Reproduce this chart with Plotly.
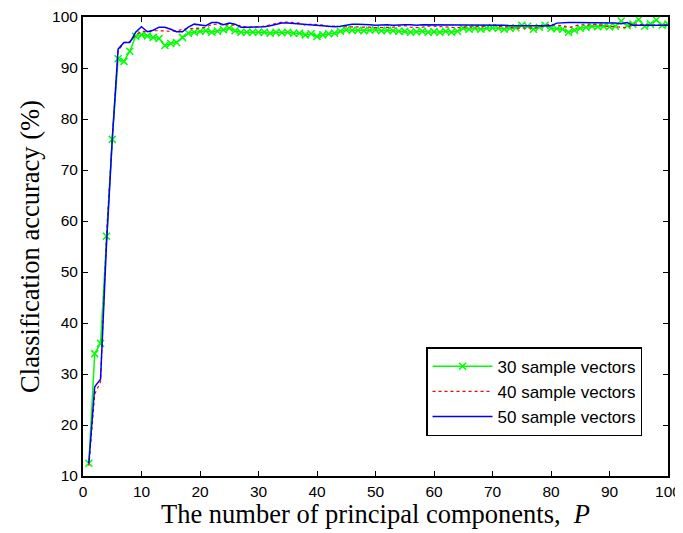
import plotly.graph_objects as go

components = list(range(1, 101))

acc_30 = [12.5, 34, 36, 57, 76, 91.8, 91.3, 93.3, 96.2, 96.5,
          96.3, 96.0, 95.8, 94.4, 94.8, 95.0, 96.0, 96.8, 97.0, 97.2,
          97.3, 97.0, 97.2, 97.5, 97.8, 97.3, 97.0, 97.0, 97.0, 97.0,
          97.0, 96.8, 97.0, 96.9, 97.0, 96.8, 96.8, 96.5, 96.7, 96.2,
          96.5, 96.7, 96.8, 97.2, 97.5, 97.4, 97.4, 97.3, 97.4, 97.5,
          97.3, 97.4, 97.3, 97.2, 97.2, 97.0, 97.1, 97.2, 97.0, 97.1,
          97.0, 97.2, 97.0, 97.2, 97.8, 97.6, 97.8, 97.6, 97.8, 97.9,
          97.8, 97.6, 97.8, 97.9, 98.4, 98.2, 97.6, 98.0, 98.4, 97.8,
          97.7, 97.6, 97.0, 97.4, 97.8, 98.0, 98.2, 98.1, 98.2, 98.1,
          98.2, 99.2, 98.3, 98.6, 99.5, 98.2, 98.6, 99.4, 98.4, 98.6]

acc_40 = [12, 26, 28.5, 57, 76, 93.3, 95, 95.2, 96.5, 97.2,
          97.1, 97.3, 97.3, 97.2, 97.2, 97.3, 97.5, 97.8, 97.7, 97.8,
          98.0, 98.5, 98.6, 98.4, 98.5, 98.4, 98.3, 98.0, 98.0, 98.0,
          98.2, 98.5, 98.8, 99.0, 99.0, 98.9, 98.8, 98.4, 98.6, 98.5,
          98.4, 98.1, 98.2, 98.1, 98.1, 98.1, 98.1, 98.0, 98.0, 97.9,
          97.9, 97.9, 98.0, 98.2, 98.3, 98.0, 97.9, 98.0, 98.2, 98.2,
          98.1, 98.0, 97.9, 97.9, 98.0, 98.1, 98.1, 98.1, 98.2, 98.5,
          98.1, 98.1, 97.9, 97.8, 97.8, 97.8, 97.8, 97.9, 98.4, 98.6,
          98.4, 98.3, 97.9, 98.2, 98.5, 98.4, 98.4, 98.5, 98.3, 98.1,
          98.1, 98.0, 97.9, 98.6, 98.6, 98.4, 98.4, 98.4, 98.4, 98.4]

acc_50 = [12.5, 27.5, 29, 55, 76, 93.7, 95, 95, 97, 98.1,
          97.1, 97.4, 98.0, 98.0, 97.6, 97.1, 97.1, 98.0, 98.6, 98.4,
          98.3, 98.9, 98.9, 98.5, 98.8, 98.6, 98.0, 98.0, 98.0, 98.0,
          98.1, 98.3, 98.6, 98.8, 98.8, 98.7, 98.6, 98.5, 98.4, 98.3,
          98.2, 98.1, 98.1, 98.2, 98.4, 98.6, 98.6, 98.6, 98.5, 98.4,
          98.5, 98.5, 98.4, 98.5, 98.5, 98.5, 98.4, 98.5, 98.5, 98.5,
          98.4, 98.5, 98.5, 98.5, 98.4, 98.5, 98.5, 98.5, 98.4, 98.5,
          98.5, 98.4, 98.3, 98.3, 98.3, 98.3, 98.3, 98.3, 98.3, 98.3,
          98.8, 98.9, 98.9, 98.9, 98.9, 98.9, 98.9, 98.9, 98.8, 98.8,
          98.8, 98.7, 98.9, 98.4, 98.4, 98.4, 98.4, 98.4, 98.4, 98.4]

series_names = ["30 sample vectors", "40 sample vectors", "50 sample vectors"]
x_ticks = list(range(0, 101, 10))
y_ticks = list(range(10, 101, 10))
x_title = "The number of principal components,  <i>P</i>"
y_title = "Classification accuracy (%)"

fig = go.Figure()
fig.add_trace(go.Scatter(
    x=components, y=acc_30, name=series_names[0], mode="lines+markers",
    line=dict(color="#00ff00", width=1.5),
    marker=dict(symbol="x-thin", size=7, line=dict(color="#00ff00", width=1.5)),
))
fig.add_trace(go.Scatter(
    x=components, y=acc_40, name=series_names[1], mode="lines",
    line=dict(color="#ff0000", width=1.2, dash="dot"),
))
fig.add_trace(go.Scatter(
    x=components, y=acc_50, name=series_names[2], mode="lines",
    line=dict(color="#0000ff", width=1.5),
))

axis_common = dict(
    showline=True, linecolor="black", linewidth=2, mirror="ticks",
    ticks="inside", ticklen=5, tickcolor="black", tickwidth=1,
    showgrid=False, zeroline=False, automargin=False,
    ticklabeloverflow="allow",
    tickfont=dict(family="Liberation Sans, Arial", size=15.5, color="black"),
)

title_font = dict(family="Liberation Serif, Times New Roman", size=26.5, color="black")

fig.update_layout(
    width=683, height=533,
    margin=dict(l=75, r=23, t=9, b=65),
    paper_bgcolor="white", plot_bgcolor="white",
    xaxis=dict(range=[0, 100], tickvals=x_ticks, ticktext=[str(v) for v in x_ticks],
               **axis_common),
    yaxis=dict(range=[10, 100], tickvals=y_ticks, ticktext=[str(v) for v in y_ticks],
               title=dict(text=y_title, font=title_font, standoff=5),
               **axis_common),
    legend=dict(x=0.9556, y=0.0866, xanchor="right", yanchor="bottom",
                bordercolor="black", borderwidth=1.5, bgcolor="white",
                font=dict(family="Liberation Sans, Arial", size=17, color="black"),
                tracegroupgap=0, itemwidth=60),
    showlegend=True,
)

fig.add_annotation(
    text=x_title, xref="paper", yref="paper", x=0.5, y=0,
    xanchor="center", yanchor="top", yshift=-21, showarrow=False,
    font=title_font,
)

fig.write_html("out.html")
